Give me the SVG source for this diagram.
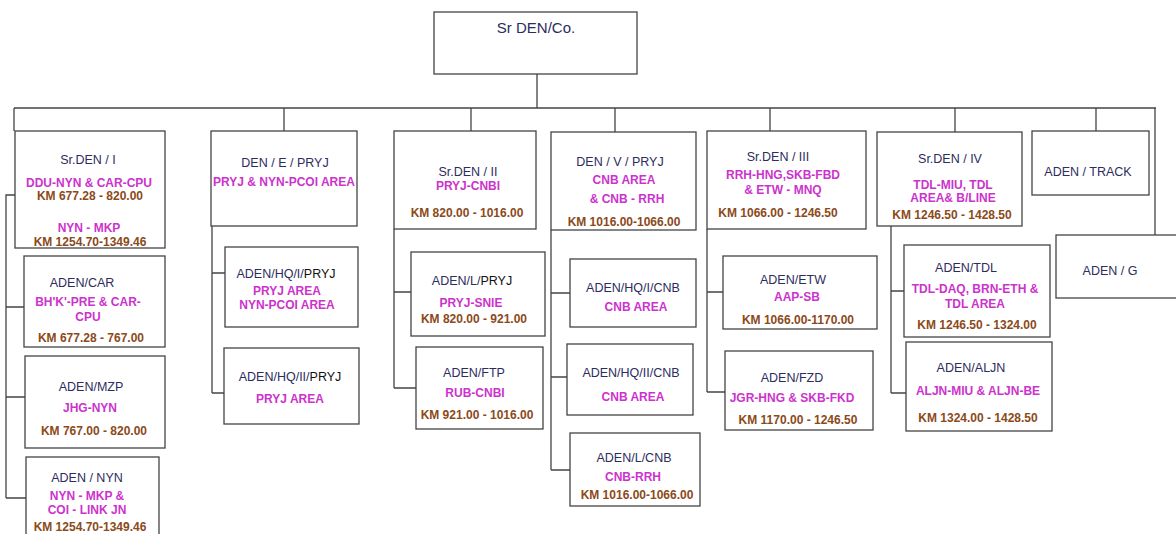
<svg xmlns="http://www.w3.org/2000/svg" width="1176" height="534" viewBox="0 0 1176 534">
<style>
.box{fill:#fff;stroke:#444;stroke-width:1.3}
.ln{fill:none;stroke:#444;stroke-width:1.3}
text{font-family:"Liberation Sans",Arial,sans-serif;text-anchor:middle}
.t{font-size:12.5px;fill:#2c2c5e}
.k{fill:#111}
.m{font-size:12px;font-weight:bold;fill:#cc33cc}
.b{font-size:12px;font-weight:bold;fill:#8b4a1a}
</style>
<rect width="1176" height="534" fill="#fff"/>
<g id="connectors" class="ln">
<path d="M537 74V108M14 108H1156M14 108V131M284 108V131M471 108V131M615 108V132M770 108V131M955 108V132M1096 108V131M1155 108V235"/>
<path d="M15 195H6V498M6 307H24M6 397H25M6 498H26"/>
<path d="M212 226V393M212 273H225M212 393H224"/>
<path d="M394 229V388M394 292H411M394 388H416"/>
<path d="M551 230V470M551 293H570M551 377H567M551 470H570"/>
<path d="M707 229V392M707 292H723M707 392H725"/>
<path d="M891 226V393M891 291H904M891 393H906"/>
</g>
<g id="n-srdenco"><rect class="box" x="434" y="12" width="203" height="62"/><text x="536" y="33" style="font-size:15px;fill:#2c2c5e">Sr DEN/Co.</text></g>
<g id="n-srden1"><rect class="box" x="15" y="131" width="150" height="117"/>
<text class="t" x="88" y="164">Sr.DEN / I</text>
<text class="m" x="89" y="187">DDU-NYN &amp; CAR-CPU</text>
<text class="b" x="90" y="200">KM 677.28 - 820.00</text>
<text class="m" x="89" y="232">NYN - MKP</text>
<text class="b" x="90" y="246">KM 1254.70-1349.46</text></g>
<g id="n-adencar"><rect class="box" x="24" y="256" width="141" height="91"/>
<text class="t" x="82" y="287">ADEN/CAR</text>
<text class="m" x="88" y="306">BH'K'-PRE &amp; CAR-</text>
<text class="m" x="88" y="321">CPU</text>
<text class="b" x="91" y="342">KM 677.28 - 767.00</text></g>
<g id="n-adenmzp"><rect class="box" x="25" y="356" width="140" height="92"/>
<text class="t" x="91" y="391">ADEN/MZP</text>
<text class="m" x="90" y="412">JHG-NYN</text>
<text class="b" x="94" y="435">KM 767.00 - 820.00</text></g>
<g id="n-adennyn"><rect class="box" x="26" y="457" width="133" height="90"/>
<text class="t" x="87" y="482">ADEN / NYN</text>
<text class="m" x="87" y="500">NYN - MKP &amp;</text>
<text class="m" x="87" y="514">COI - LINK JN</text>
<text class="b" x="90" y="531">KM 1254.70-1349.46</text></g>
<g id="n-deneprj"><rect class="box" x="211" y="131" width="146" height="95"/>
<text class="t" x="285" y="167">DEN / E / PRYJ</text>
<text class="m" x="284" y="186">PRYJ &amp; NYN-PCOI AREA</text></g>
<g id="n-adenhq1prj"><rect class="box" x="225" y="247" width="133" height="80"/>
<text class="t" x="286" y="278">ADEN/HQ/I/<tspan class="k">PRYJ</tspan></text>
<text class="m" x="287" y="295">PRYJ AREA</text>
<text class="m" x="287" y="309">NYN-PCOI AREA</text></g>
<g id="n-adenhq2prj"><rect class="box" x="224" y="348" width="135" height="76"/>
<text class="t" x="290" y="381">ADEN/HQ/II/<tspan class="k">PRYJ</tspan></text>
<text class="m" x="290" y="403">PRYJ AREA</text></g>
<g id="n-srden2"><rect class="box" x="394" y="131" width="142" height="98"/>
<text class="t" x="468" y="176">Sr.DEN / II</text>
<text class="m" x="468" y="190">PRYJ-CNBI</text>
<text class="b" x="467" y="217">KM 820.00 - 1016.00</text></g>
<g id="n-adenlprj"><rect class="box" x="411" y="252" width="134" height="84"/>
<text class="t" x="472" y="285">ADEN/L/<tspan class="k">PRYJ</tspan></text>
<text class="m" x="471" y="307">PRYJ-SNIE</text>
<text class="b" x="474" y="323">KM 820.00 - 921.00</text></g>
<g id="n-adenftp"><rect class="box" x="416" y="347" width="127" height="82"/>
<text class="t" x="474" y="377">ADEN/FTP</text>
<text class="m" x="475" y="397">RUB-CNBI</text>
<text class="b" x="477" y="419">KM 921.00 - 1016.00</text></g>
<g id="n-denvprj"><rect class="box" x="551" y="132" width="145" height="98"/>
<text class="t" x="620" y="166">DEN / V / PRYJ</text>
<text class="m" x="624" y="184">CNB AREA</text>
<text class="m" x="627" y="203">&amp; CNB - RRH</text>
<text class="b" x="624" y="226">KM 1016.00-1066.00</text></g>
<g id="n-adenhq1cnb"><rect class="box" x="570" y="259" width="126" height="68"/>
<text class="t" x="633" y="292">ADEN/HQ/I/CNB</text>
<text class="m" x="636" y="311">CNB AREA</text></g>
<g id="n-adenhq2cnb"><rect class="box" x="567" y="344" width="126" height="71"/>
<text class="t" x="631" y="377">ADEN/HQ/II/CNB</text>
<text class="m" x="633" y="401">CNB AREA</text></g>
<g id="n-adenlcnb"><rect class="box" x="570" y="433" width="130" height="73"/>
<text class="t" x="634" y="462">ADEN/L/CNB</text>
<text class="m" x="633" y="481">CNB-RRH</text>
<text class="b" x="637" y="499">KM 1016.00-1066.00</text></g>
<g id="n-srden3"><rect class="box" x="707" y="131" width="159" height="98"/>
<text class="t" x="778" y="161">Sr.DEN / III</text>
<text class="m" x="783" y="179">RRH-HNG,SKB-FBD</text>
<text class="m" x="783" y="194">&amp; ETW - MNQ</text>
<text class="b" x="778" y="217">KM 1066.00 - 1246.50</text></g>
<g id="n-adenetw"><rect class="box" x="723" y="256" width="154" height="73"/>
<text class="t" x="793" y="284">ADEN/ETW</text>
<text class="m" x="797" y="301">AAP-SB</text>
<text class="b" x="798" y="324">KM 1066.00-1170.00</text></g>
<g id="n-adenfzd"><rect class="box" x="725" y="351" width="148" height="79"/>
<text class="t" x="792" y="382">ADEN/FZD</text>
<text class="m" x="792" y="402">JGR-HNG &amp; SKB-FKD</text>
<text class="b" x="798" y="424">KM 1170.00 - 1246.50</text></g>
<g id="n-srden4"><rect class="box" x="877" y="132" width="145" height="94"/>
<text class="t" x="950" y="163">Sr.DEN / IV</text>
<text class="m" x="953" y="189">TDL-MIU, TDL</text>
<text class="m" x="953" y="202">AREA&amp; B/LINE</text>
<text class="b" x="952" y="219">KM 1246.50 - 1428.50</text></g>
<g id="n-adentdl"><rect class="box" x="904" y="245" width="146" height="92"/>
<text class="t" x="966" y="272">ADEN/TDL</text>
<text class="m" x="975" y="293">TDL-DAQ, BRN-ETH &amp;</text>
<text class="m" x="975" y="308">TDL AREA</text>
<text class="b" x="977" y="329">KM 1246.50 - 1324.00</text></g>
<g id="n-adenaljn"><rect class="box" x="906" y="342" width="146" height="89"/>
<text class="t" x="971" y="372">ADEN/ALJN</text>
<text class="m" x="978" y="395">ALJN-MIU &amp; ALJN-BE</text>
<text class="b" x="978" y="422">KM 1324.00 - 1428.50</text></g>
<g id="n-adentrack"><rect class="box" x="1032" y="131" width="117" height="64"/>
<text class="t" x="1088" y="176">ADEN / TRACK</text></g>
<g id="n-adeng"><rect class="box" x="1056" y="235" width="125" height="63"/>
<text class="t" x="1110" y="275">ADEN / G</text></g>
</svg>
